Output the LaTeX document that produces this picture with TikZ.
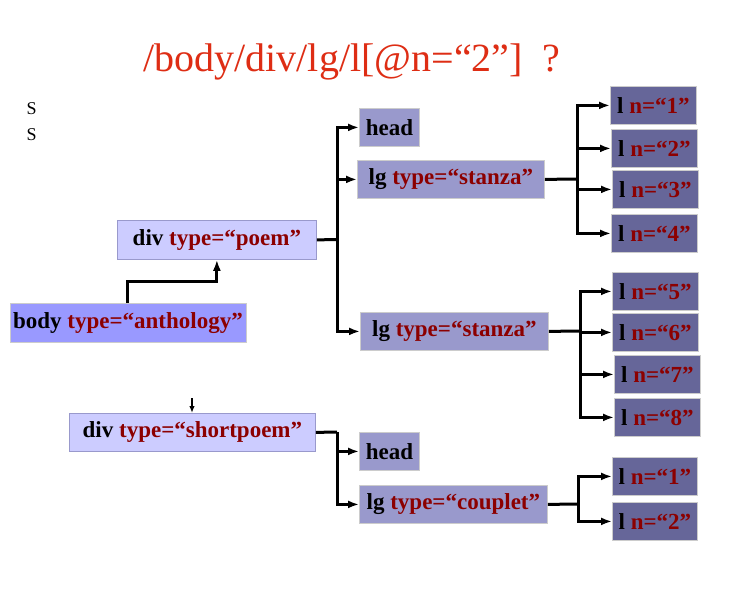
\documentclass[tikz,border=0pt]{standalone}
\usepackage{fontspec}
\setmainfont{Liberation Serif}
\usetikzlibrary{arrows.meta}
\definecolor{attrred}{RGB}{140,0,0}
\definecolor{titlered}{RGB}{222,45,20}
\definecolor{bodyfill}{RGB}{153,153,255}
\definecolor{divfill}{RGB}{204,204,255}
\definecolor{lgfill}{RGB}{153,153,204}
\definecolor{lfill}{RGB}{102,102,153}
\newcommand\atv[1]{\textcolor{attrred}{#1}}
\begin{document}
\begin{tikzpicture}[x=1pt,y=-1pt,
  box/.style={draw=black!20, line width=0.8pt, inner sep=0pt, anchor=north west,
    minimum height=38pt, font=\fontsize{23}{23}\selectfont\bfseries},
  bodybox/.style={box, fill=bodyfill},
  divbox/.style={box, fill=divfill, draw=lgfill},
  lgbox/.style={box, fill=lgfill},
  lbox/.style={box, fill=lfill, minimum width=86pt},
  conn/.style={line width=3pt},
  arr/.style={conn, -{Latex[length=11pt,width=8pt]}},
  smallarr/.style={line width=1.8pt, -{Latex[length=7pt,width=5.5pt]}}
]
\fill[white] (0,0) rectangle (741,599);
\useasboundingbox (0,0) rectangle (741,599);

% title and stray letters
\node[anchor=base, text=titlered, font=\fontsize{40}{40}\selectfont] (title) at (352,72) {/body/div/lg/l[@n=“2”]\ \ ?};
\node[anchor=base west, font=\fontsize{18}{18}\selectfont] (s1) at (23,114) {S};
\node[anchor=base west, font=\fontsize{18}{18}\selectfont] (s2) at (23,140) {S};

% boxes
\node[bodybox, minimum width=236pt, minimum height=39pt] (body) at (9.5,303) {body \atv{type=“anthology”}};
\node[divbox, minimum width=199pt, minimum height=39pt] (div1) at (117,220) {div \atv{type=“poem”}};
\node[lgbox, minimum width=60pt] (head1) at (359,108) {head};
\node[lgbox, minimum width=187pt] (lg1) at (357,160) {lg \atv{type=“stanza”}};
\node[lgbox, minimum width=188pt] (lg2) at (360,312) {lg \atv{type=“stanza”}};
\node[lbox] (l1) at (610,86) {l \atv{n=“1”}};
\node[lbox] (l2) at (611,129) {l \atv{n=“2”}};
\node[lbox] (l3) at (612,170) {l \atv{n=“3”}};
\node[lbox] (l4) at (611,214) {l \atv{n=“4”}};
\node[lbox] (l5) at (612,272) {l \atv{n=“5”}};
\node[lbox] (l6) at (612,313) {l \atv{n=“6”}};
\node[lbox] (l7) at (614,355) {l \atv{n=“7”}};
\node[lbox] (l8) at (614,398) {l \atv{n=“8”}};
\node[divbox, minimum width=246pt] (div2) at (69,413) {div \atv{type=“shortpoem”}};
\node[lgbox, minimum width=60pt] (head2) at (359,432) {head};
\node[lgbox, minimum width=188pt] (lg3) at (359,485) {lg \atv{type=“couplet”}};
\node[lbox, minimum width=85pt] (m1) at (612,457) {l \atv{n=“1”}};
\node[lbox, minimum width=85pt] (m2) at (612,502) {l \atv{n=“2”}};

% junction points
\coordinate (j1) at (337,239.5);
\coordinate (j2) at (577,179);
\coordinate (j3) at (580,331);
\coordinate (j4) at (578,504);
\coordinate (j5) at (337,432);
\coordinate (tp) at (192,398);

% connectors
\draw[arr] (body.north) -- ++(0,-22) -| (div1.south);

\draw[conn] (div1.east) -- (j1);
\draw[arr] (j1) |- (head1.west);
\draw[arr] (j1) |- (lg1.west);
\draw[arr] (j1) |- (lg2.west);

\draw[conn] (lg1.east) -- (j2);
\draw[arr] (j2) |- (l1.west);
\draw[arr] (j2) |- (l2.west);
\draw[arr] (j2) |- (l3.west);
\draw[arr] (j2) |- (l4.west);

\draw[conn] (lg2.east) -- (j3);
\draw[arr] (j3) |- (l5.west);
\draw[arr] (j3) |- (l6.west);
\draw[arr] (j3) |- (l7.west);
\draw[arr] (j3) |- (l8.west);

\draw[smallarr] (tp) -- (tp |- div2.north);

\draw[conn] (div2.east) -- (j5);
\draw[arr] (j5) |- (head2.west);
\draw[arr] (j5) |- (lg3.west);

\draw[conn] (lg3.east) -- (j4);
\draw[arr] (j4) |- (m1.west);
\draw[arr] (j4) |- (m2.west);
\end{tikzpicture}
\end{document}
